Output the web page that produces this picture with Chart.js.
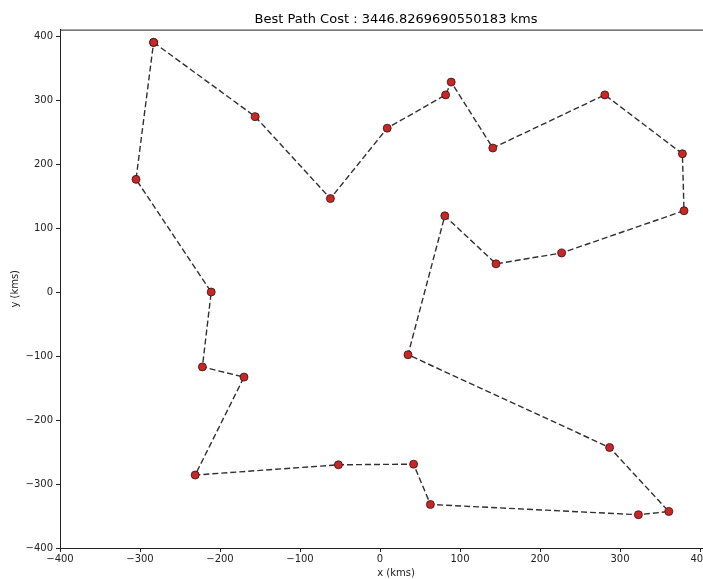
<!DOCTYPE html>
<html>
<head>
<meta charset="utf-8">
<script src="https://cdn.jsdelivr.net/npm/chart.js@4/dist/chart.umd.min.js"></script>
<style>
  html, body { margin: 0; padding: 0; background: #fff; overflow: hidden; }
  #wrap { width: 794px; height: 579px; }
</style>
</head>
<body>
<div id="wrap"><canvas id="pathChart"></canvas></div>
<script>
// tour order, closed loop (last point = first point)
var xs = [-283, -156, -62, 9, 82, 89, 141, 281, 378, 380, 227, 145, 81, 35, 287, 361, 323, 63, 42, -52, -231, -170, -222, -211, -305, -283];
var ys = [390, 274, 146, 256, 308, 328, 225, 308, 216, 127, 61, 44, 119, -98, -243, -343, -348, -332, -269, -270, -286, -133, -117, 0, 176, 390];
var axisTicks = [-400, -300, -200, -100, 0, 100, 200, 300, 400];
var titleText = 'Best Path Cost : 3446.8269690550183 kms';

var points = xs.map(function (x, i) { return { x: x, y: ys[i] }; });

var fontFam = '"DejaVu Sans", sans-serif';

function minus(v) { return String(v).replace('-', '\u2212'); }

var frame = {
  id: 'frame',
  afterDatasetsDraw: function (chart) {
    var a = chart.chartArea, c = chart.ctx;
    c.save();
    c.strokeStyle = '#222';
    c.lineWidth = 1;
    c.strokeRect(a.left + 0.5, a.top + 0.5, a.right - a.left, a.bottom - a.top);
    c.restore();
  }
};

var ctx = document.getElementById('pathChart');
var myChart = new Chart(ctx, {
  type: 'scatter',
  data: {
    datasets: [{
      data: points,
      showLine: true,
      borderColor: '#303030',
      borderWidth: 1.4,
      borderDash: [6, 3],
      pointRadius: 4,
      pointBackgroundColor: '#c62828',
      pointBorderColor: '#3a0e0e',
      pointBorderWidth: 0.8,
      tension: 0
    }]
  },
  options: {
    responsive: true,
    maintainAspectRatio: false,
    animation: false,
    layout: { padding: { top: 1, right: 62, bottom: 0, left: 9 } },
    plugins: {
      legend: { display: false },
      tooltip: { enabled: false },
      title: {
        display: true,
        fullSize: false,
        text: titleText,
        color: '#000',
        font: { family: fontFam, size: 13, weight: 'normal' },
        padding: { top: 11, bottom: 2 }
      }
    },
    scales: {
      x: {
        type: 'linear',
        min: -400, max: 440,
        afterBuildTicks: function (s) { s.ticks = axisTicks.map(function (v) { return { value: v }; }); },
        afterFit: function (s) { s.height = 31; },
        grid: { drawOnChartArea: false, drawTicks: true, tickLength: 4, color: '#222' },
        border: { display: true, color: '#222' },
        ticks: {
          color: '#222', padding: 1, maxRotation: 0,
          font: { family: fontFam, size: 10 },
          callback: function (v) { return minus(v); }
        },
        title: {
          display: true, text: 'x (kms)', color: '#222',
          font: { family: fontFam, size: 10 },
          padding: { top: 0, bottom: 0 }
        }
      },
      y: {
        type: 'linear',
        min: -400, max: 410,
        afterBuildTicks: function (s) { s.ticks = axisTicks.map(function (v) { return { value: v }; }); },
        afterFit: function (s) { s.width = 51; },
        grid: { drawOnChartArea: false, drawTicks: true, tickLength: 4, color: '#222' },
        border: { display: true, color: '#222' },
        ticks: {
          color: '#222', padding: 3,
          font: { family: fontFam, size: 10 },
          callback: function (v) { return minus(v); }
        },
        title: {
          display: true, text: 'y (kms)', color: '#222',
          font: { family: fontFam, size: 10 },
          padding: { top: 0, bottom: 0 }
        }
      }
    }
  },
  plugins: [frame]
});
</script>
</body>
</html>
